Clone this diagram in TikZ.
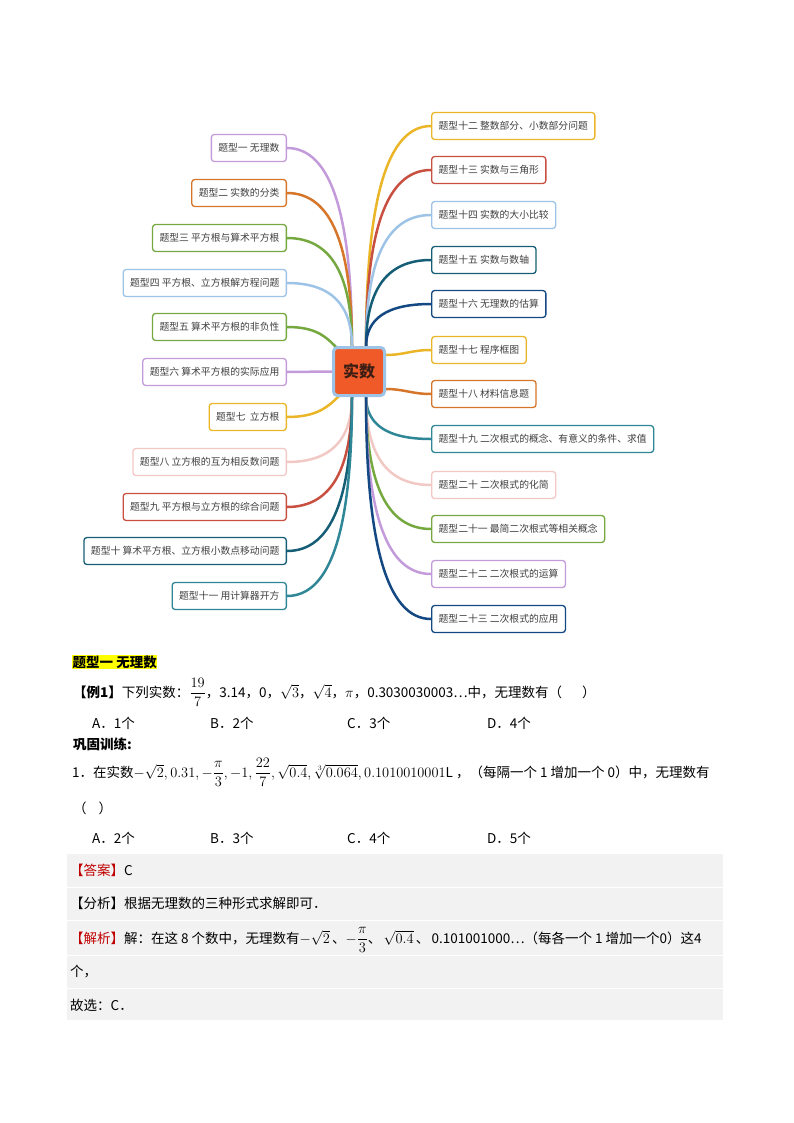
\documentclass[tikz,border=0pt]{standalone}
\usepackage{amsmath}
\usepackage{fontspec}
\setmainfont{Noto Sans CJK SC}
\usetikzlibrary{backgrounds}
\definecolor{purp}{RGB}{196,155,218}
\definecolor{orng}{RGB}{214,118,42}
\definecolor{grn}{RGB}{118,168,64}
\definecolor{lblue}{RGB}{157,195,230}
\definecolor{gold}{RGB}{235,181,40}
\definecolor{pink}{RGB}{242,200,196}
\definecolor{redc}{RGB}{200,80,64}
\definecolor{dteal}{RGB}{22,94,118}
\definecolor{teal2}{RGB}{46,134,150}
\definecolor{dblue}{RGB}{20,72,130}
\definecolor{cfill}{RGB}{240,90,40}
\definecolor{ctext}{RGB}{60,30,20}
\definecolor{tgray}{RGB}{64,64,64}
\definecolor{boxgray}{RGB}{242,242,242}
\definecolor{ansred}{RGB}{192,0,0}
\definecolor{hl}{RGB}{255,255,0}
\tikzset{
  topic/.style={draw=#1, line width=1.3pt, rounded corners=3pt, fill=white,
    minimum height=27pt, inner xsep=7pt, text=tgray,
    font=\fontsize{9.8}{11}\selectfont},
  conn/.style={draw=#1, line width=2.5pt},
  body/.style={anchor=base west, inner sep=0pt, font=\fontsize{13.5}{15}\selectfont},
}
\begin{document}
\begin{tikzpicture}[x=1pt,y=-1pt]
\useasboundingbox (0,0) rectangle (794,1123);
% centre
\node[draw=lblue, line width=3pt, fill=cfill, rounded corners=4pt,
  minimum width=51pt, minimum height=48pt, text=ctext,
  font=\bfseries\fontsize{16}{18}\selectfont] (c) at (359,371.5) {实数};
\coordinate (cTL) at (352,347);
\coordinate (cTR) at (366,347);
\coordinate (cBL) at (352,396);
\coordinate (cBR) at (366,396);
\coordinate (cL5) at (338,349);
\coordinate (cL7) at (340,395);
\coordinate (cR17) at (385,355);
\coordinate (cR18) at (385,389);
% left topics
\foreach \n/\t/\y/\c in {
  l1/题型一 无理数/148/purp,
  l2/题型二 实数的分类/193/orng,
  l3/题型三 平方根与算术平方根/238/grn,
  l4/题型四 平方根、立方根解方程问题/283/lblue,
  l5/题型五 算术平方根的非负性/327/grn,
  l6/题型六 算术平方根的实际应用/372/purp,
  l7/题型七\ \ 立方根/417/gold,
  l8/题型八 立方根的互为相反数问题/462/pink,
  l9/题型九 平方根与立方根的综合问题/507/redc,
  l10/题型十 算术平方根、立方根小数点移动问题/551/dteal,
  l11/题型十一 用计算器开方/596/teal2}
  {\node[topic=\c, anchor=east] (\n) at (287,\y) {\t};}
% right topics
\foreach \n/\t/\y/\c in {
  r12/题型十二 整数部分、小数部分问题/126/gold,
  r13/题型十三 实数与三角形/170/redc,
  r14/题型十四 实数的大小比较/215/lblue,
  r15/题型十五 实数与数轴/260/dteal,
  r16/题型十六 无理数的估算/304/dblue,
  r17/题型十七 程序框图/350/gold,
  r18/题型十八 材料信息题/394/orng,
  r19/题型十九 二次根式的概念、有意义的条件、求值/439/teal2,
  r20/题型二十 二次根式的化简/485/pink,
  r21/题型二十一 最简二次根式等相关概念/529/grn,
  r22/题型二十二 二次根式的运算/574/purp,
  r23/题型二十三 二次根式的应用/619/dblue}
  {\node[topic=\c, anchor=west] (\n) at (431,\y) {\t};}
% connectors
\begin{pgfonlayer}{background}
\foreach \n/\y/\c in {l1/148/purp, l2/193/orng, l3/238/grn, l4/283/lblue}
  {\draw[conn=\c] (\n.east) .. controls +(45,0) and +(0,{-0.65*(347-\y)}) .. (cTL);}
\draw[conn=grn] (l5.east) .. controls +(30,0) and +(-12,-12) .. (cL5);
\draw[conn=purp] (l6.east) -- (c.west);
\draw[conn=gold] (l7.east) .. controls +(30,0) and +(-12,12) .. (cL7);
\foreach \n/\y/\c in {l8/462/pink, l9/507/redc, l10/551/dteal, l11/596/teal2}
  {\draw[conn=\c] (\n.east) .. controls +(45,0) and +(0,{0.65*(\y-396)}) .. (cBL);}
\foreach \n/\y/\c in {r12/126/gold, r13/170/redc, r14/215/lblue, r15/260/dteal, r16/304/dblue}
  {\draw[conn=\c] (cTR) .. controls +(0,{-0.65*(347-\y)}) and +(-45,0) .. (\n.west);}
\draw[conn=gold] (cR17) .. controls +(20,0) and +(-20,0) .. (r17.west);
\draw[conn=orng] (cR18) .. controls +(20,0) and +(-20,0) .. (r18.west);
\foreach \n/\y/\c in {r19/439/teal2, r20/485/pink, r21/529/grn, r22/574/purp, r23/619/dblue}
  {\draw[conn=\c] (cBR) .. controls +(0,{0.65*(\y-396)}) and +(-45,0) .. (\n.west);}
\end{pgfonlayer}
% body text
\node[body, fill=hl, inner xsep=0.5pt, inner ysep=0.5pt, font=\bfseries\fontsize{13.5}{15}\selectfont] (h1) at (72,667) {题型一 无理数};
\node[body] (ex1) at (73,697) {{\bfseries 【例1】}下列实数：$\dfrac{19}{7}$，3.14，0，$\sqrt{3}$，$\sqrt{4}$，$\pi$，0.3030030003…中，无理数有（\hspace{20pt}）};
\node[body] (oa1) at (92,728) {A．1个};
\node[body] (ob1) at (210,728) {B．2个};
\node[body] (oc1) at (347,728) {C．3个};
\node[body] (od1) at (487,728) {D．4个};
\node[body, font=\bfseries\fontsize{13.5}{15}\selectfont] (gg) at (73,749) {巩固训练:};
\node[body] (q1) at (72,777) {1．在实数$-\sqrt{2},0.31,-\dfrac{\pi}{3},-1,\dfrac{22}{7},\sqrt{0.4},\sqrt[3]{0.064},0.1010010001\mathrm{L}$ ，（每隔一个 1 增加一个 0）中，无理数有};
\node[body] (q1b) at (73,813) {（\hspace{12pt}）};
\node[body] (oa2) at (92,843) {A．2个};
\node[body] (ob2) at (210,843) {B．3个};
\node[body] (oc2) at (347,843) {C．4个};
\node[body] (od2) at (487,843) {D．5个};
% answer box
\fill[boxgray] (67,854) rectangle (723,1020);
\foreach \yy in {887,920,955,988} \draw[white, line width=1pt] (67,\yy) -- (723,\yy);
\node[body] (ans) at (70,875) {{\color{ansred}【答案】}C};
\node[body] (ana) at (70,908) {【分析】根据无理数的三种形式求解即可．};
\node[body] (sol) at (70,943) {{\color{ansred}【解析】}解：在这 8 个数中，无理数有$-\sqrt{2}$\,、$-\dfrac{\pi}{3}$、\,$\sqrt{0.4}$\,、\,0.101001000…（每各一个 1 增加一个0）这4};
\node[body] (sol2) at (70,976) {个，};
\node[body] (sel) at (70,1010) {故选：C．};
\end{tikzpicture}
\end{document}
